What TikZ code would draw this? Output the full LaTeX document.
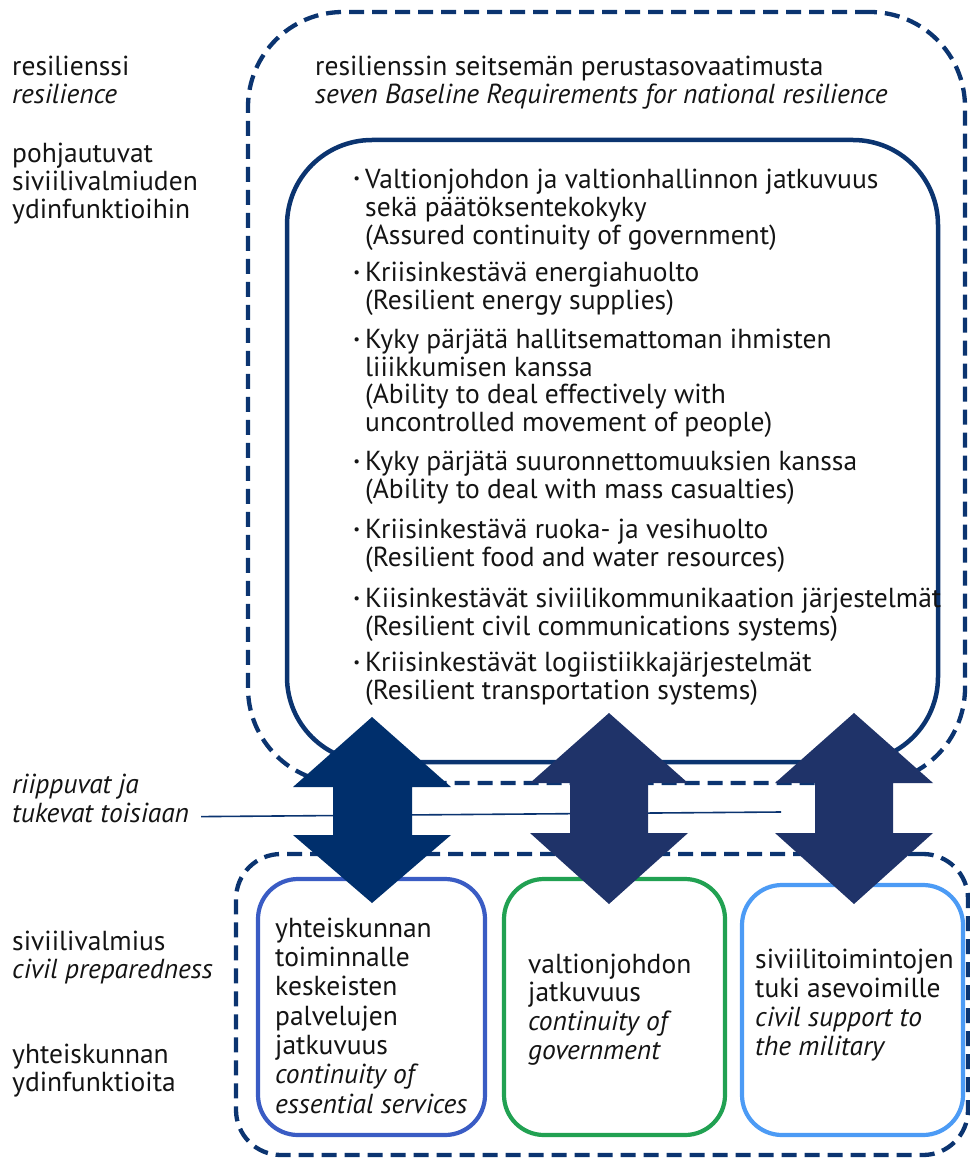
\documentclass[tikz,border=0pt]{standalone}
\usepackage{fontspec}
\setmainfont{PT Sans}
\definecolor{navy}{HTML}{0B3470}
\definecolor{arrA}{HTML}{002F6C}
\definecolor{arrB}{HTML}{1F3369}
\definecolor{boxblue}{HTML}{3A5CC4}
\definecolor{boxgreen}{HTML}{21A152}
\definecolor{boxlight}{HTML}{4C9BF5}
\definecolor{txt}{HTML}{141414}
\tikzset{
  lbl/.style={anchor=north west, inner sep=0pt, align=left, text=txt,
    font=\fontsize{27.5}{28}\selectfont},
  dashbox/.style={draw=navy, line width=4.3pt, dash pattern=on 15pt off 8pt},
  solidbox/.style={draw=navy, line width=4.5pt},
  subbox/.style={line width=4.2pt, rounded corners=40pt, fill=white},
}
\newcommand{\bul}{\llap{\raisebox{4.5pt}{\fontsize{15}{15}\selectfont•}\hspace{5pt}}}
\begin{document}
\begin{tikzpicture}[x=1pt,y=-1pt]
\useasboundingbox (0,0) rectangle (969,1158);
% outer boxes
\node[dashbox, rounded corners=95pt, minimum width=717pt, minimum height=771pt, inner sep=0pt] (resbox) at (606.5,397.5) {};
\node[solidbox, rounded corners=85pt, minimum width=651pt, minimum height=622pt, inner sep=0pt] (reqbox) at (612.5,451) {};
\node[dashbox, rounded corners=45pt, minimum width=732pt, minimum height=301pt, inner sep=0pt] (prepbox) at (602,1004.5) {};
% sub boxes
\node[subbox, draw=boxblue, minimum width=227pt, minimum height=256pt, inner sep=0pt] (svc) at (371.5,1007) {};
\node[subbox, draw=boxgreen, minimum width=221pt, minimum height=256pt, inner sep=0pt] (gov) at (614.5,1007) {};
\node[subbox, draw=boxlight, minimum width=221pt, minimum height=250pt, inner sep=0pt] (mil) at (852.5,1010) {};
% left labels
\node[lbl] (resil) at (12,55.4) {\strut resilienssi\\\textit{resilience}};
\node[lbl] (pohj) at (12,142.4) {\strut pohjautuvat\\siviilivalmiuden\\ydinfunktioihin};
\node[lbl] (dep1) at (12,773.4) {\strut\textit{riippuvat ja}};
\node[lbl] (dep2) at (12,802.4) {\strut\textit{tukevat toisiaan}};
\node[lbl] (sivi) at (12,930.4) {\strut siviilivalmius\\\textit{civil preparedness}};
\node[lbl] (ydin) at (12,1043.4) {\strut yhteiskunnan\\ydinfunktioita};
% header
\node[lbl] (head) at (315,55.4) {\strut resilienssin seitsemän perustasovaatimusta\\\textit{seven Baseline Requirements for national resilience}};
% bullet list
\node[lbl, font=\fontsize{27.5}{27.5}\selectfont] (list) at (365,168.7) {\strut
\bul Valtionjohdon ja valtionhallinnon jatkuvuus\\
sekä päätöksentekokyky\\
(Assured continuity of government)\\[10pt]
\bul Kriisinkestävä energiahuolto\\
(Resilient energy supplies)\\[12pt]
\bul Kyky pärjätä hallitsemattoman ihmisten\\
liiikkumisen kanssa\\
(Ability to deal effectively with\\
uncontrolled movement of people)\\[12pt]
\bul Kyky pärjätä suuronnettomuuksien kanssa\\
(Ability to deal with mass casualties)\\[13pt]
\bul Kriisinkestävä ruoka- ja vesihuolto\\
(Resilient food and water resources)\\[14pt]
\bul Kiisinkestävät siviilikommunikaation järjestelmät\\[0.5pt]
(Resilient civil communications systems)\\[8.5pt]
\bul Kriisinkestävät logiistiikkajärjestelmät\\
(Resilient transportation systems)};
% sub box texts
\node[lbl, font=\fontsize{27.5}{29.3}\selectfont] (svct) at (275,916.5) {\strut yhteiskunnan\\toiminnalle\\keskeisten\\palvelujen\\jatkuvuus\\\textit{continuity of}\\\textit{essential services}};
\node[lbl, font=\fontsize{27.5}{28.7}\selectfont] (govt) at (528,952.9) {\strut valtionjohdon\\jatkuvuus\\\textit{continuity of}\\\textit{government}};
\node[lbl, font=\fontsize{27.5}{29}\selectfont] (milt) at (755,947.7) {\strut siviilitoimintojen\\tuki asevoimille\\\textit{civil support to}\\\textit{the military}};
% connector line
\coordinate (lineend) at (781,812);
\draw[navy, line width=1.6pt] ([xshift=12pt]dep2.east) -- (lineend);
% double arrows
\fill[arrA] (372,717) -- (451,787) -- (412,787) -- (412,835) -- (451,835) -- (372,903) -- (293,835) -- (333,835) -- (333,787) -- (293,787) -- cycle;
\fill[arrB] (609,713) -- (688,783) -- (648,783) -- (648,833) -- (688,833) -- (609,904) -- (530,833) -- (570,833) -- (570,783) -- (530,783) -- cycle;
\fill[arrB] (854,713) -- (933,783) -- (893,783) -- (893,833) -- (933,833) -- (854,904) -- (775,833) -- (815,833) -- (815,783) -- (775,783) -- cycle;
\end{tikzpicture}
\end{document}
